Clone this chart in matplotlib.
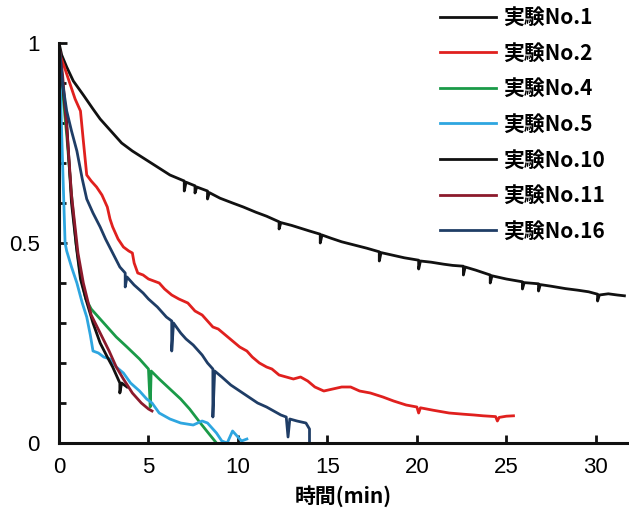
import numpy as np
import matplotlib
matplotlib.use('Agg')
import matplotlib.pyplot as plt
from matplotlib.ticker import MultipleLocator

plt.rcParams['font.family'] = ['Noto Sans CJK JP', 'DejaVu Sans']

# [time (min), normalized value]
exp1 = np.array([
    [0, 1.0], [0.15, 0.97], [0.43, 0.94], [0.8, 0.905], [1.36, 0.87], [1.9, 0.835], [2.3, 0.81],
    [2.7, 0.79], [3.0, 0.775], [3.5, 0.75], [4.1, 0.73], [4.8, 0.71], [5.5, 0.69], [6.2, 0.67],
    [7.0, 0.655], [7.0, 0.63], [7.1, 0.652], [7.6, 0.643], [7.6, 0.625], [7.7, 0.64], [8.3, 0.63],
    [8.3, 0.61], [8.4, 0.626], [9.0, 0.612], [9.7, 0.6], [10.3, 0.59], [11.0, 0.577], [11.6, 0.567],
    [12.3, 0.553], [12.3, 0.535], [12.4, 0.551], [13.0, 0.544], [13.5, 0.537], [14.0, 0.53],
    [14.6, 0.522], [14.6, 0.5], [14.7, 0.52], [15.2, 0.512], [15.8, 0.503], [16.5, 0.495],
    [17.2, 0.487], [17.9, 0.478], [17.9, 0.455], [18.0, 0.476], [18.6, 0.47], [19.3, 0.463],
    [20.1, 0.457], [20.1, 0.435], [20.2, 0.455], [20.8, 0.452], [21.5, 0.447], [22.0, 0.444],
    [22.6, 0.442], [22.6, 0.42], [22.7, 0.44], [23.3, 0.432], [24.1, 0.42], [24.1, 0.4],
    [24.2, 0.418], [25.0, 0.41], [25.9, 0.403], [25.9, 0.385], [26.0, 0.401], [26.8, 0.398],
    [26.8, 0.38], [26.9, 0.396], [27.5, 0.392], [28.3, 0.386], [29.0, 0.382], [29.6, 0.378],
    [30.1, 0.372], [30.1, 0.355], [30.2, 0.37], [30.7, 0.373], [31.2, 0.37], [31.6, 0.368],
])
exp2 = np.array([
    [0, 1.0], [0.05, 0.97], [0.3, 0.94], [0.6, 0.9], [0.9, 0.86], [1.2, 0.83], [1.35, 0.76],
    [1.55, 0.67], [1.8, 0.655], [2.1, 0.64], [2.4, 0.62], [2.7, 0.59], [2.85, 0.56], [3.0, 0.54],
    [3.3, 0.51], [3.6, 0.49], [3.9, 0.48], [4.1, 0.475], [4.2, 0.45], [4.4, 0.425], [4.7, 0.42],
    [5.0, 0.41], [5.3, 0.405], [5.6, 0.4], [5.9, 0.385], [6.3, 0.37], [6.7, 0.36], [7.2, 0.35],
    [7.6, 0.33], [8.0, 0.32], [8.3, 0.305], [8.6, 0.29], [8.9, 0.285], [9.3, 0.27], [9.7, 0.255],
    [10.1, 0.24], [10.5, 0.23], [10.8, 0.215], [11.2, 0.2], [11.6, 0.19], [11.9, 0.185],
    [12.3, 0.17], [12.7, 0.165], [13.1, 0.16], [13.5, 0.165], [13.9, 0.155], [14.3, 0.14],
    [14.8, 0.13], [15.3, 0.135], [15.8, 0.14], [16.3, 0.14], [16.8, 0.13], [17.4, 0.125],
    [18.1, 0.115], [18.7, 0.105], [19.4, 0.095], [20.0, 0.09], [20.1, 0.075], [20.2, 0.088],
    [20.9, 0.082], [21.8, 0.075], [22.6, 0.072], [23.2, 0.07], [23.7, 0.068], [24.4, 0.066],
    [24.5, 0.055], [24.6, 0.064], [25.0, 0.067], [25.4, 0.068],
])
exp4 = np.array([
    [0, 1.0], [0.2, 0.88], [0.45, 0.76], [0.7, 0.62], [0.95, 0.5], [1.2, 0.42], [1.5, 0.36],
    [1.8, 0.335], [2.1, 0.32], [2.6, 0.295], [3.2, 0.265], [3.8, 0.24], [4.5, 0.21], [5.0, 0.185],
    [5.1, 0.09], [5.15, 0.18], [5.6, 0.16], [6.2, 0.135], [6.8, 0.11], [7.3, 0.085], [7.9, 0.05],
    [8.4, 0.022], [8.8, 0.0],
])
exp5 = np.array([
    [0, 1.0], [0.1, 0.85], [0.2, 0.7], [0.34, 0.5], [0.43, 0.48], [0.7, 0.44], [1.0, 0.4],
    [1.3, 0.35], [1.55, 0.315], [1.75, 0.27], [1.9, 0.23], [2.2, 0.225], [2.5, 0.215],
    [2.85, 0.21], [3.2, 0.19], [3.6, 0.175], [4.0, 0.15], [4.5, 0.13], [4.9, 0.11], [5.2, 0.1],
    [5.6, 0.075], [6.2, 0.06], [6.8, 0.05], [7.5, 0.045], [8.0, 0.055], [8.3, 0.05], [8.8, 0.025],
    [9.1, 0.005], [9.4, 0.0], [9.7, 0.03], [9.9, 0.02], [10.2, 0.005], [10.5, 0.01],
])
exp10 = np.array([
    [0, 1.0], [0.2, 0.9], [0.43, 0.8], [0.7, 0.6], [1.0, 0.48], [1.2, 0.41], [1.5, 0.36],
    [1.9, 0.3], [2.3, 0.25], [2.7, 0.215], [3.0, 0.19], [3.4, 0.15], [3.4, 0.125], [3.5, 0.15],
    [3.8, 0.14],
])
exp11 = np.array([
    [0, 1.0], [0.2, 0.92], [0.43, 0.79], [0.7, 0.62], [1.06, 0.475], [1.36, 0.4], [1.8, 0.32],
    [2.3, 0.275], [2.8, 0.23], [3.2, 0.19], [3.6, 0.16], [4.1, 0.125], [4.6, 0.1], [5.0, 0.085],
    [5.2, 0.08],
])
exp16 = np.array([
    [0, 1.0], [0.2, 0.9], [0.43, 0.83], [0.7, 0.78], [1.0, 0.73], [1.3, 0.66], [1.55, 0.61],
    [1.9, 0.575], [2.3, 0.54], [2.6, 0.51], [3.0, 0.475], [3.4, 0.44], [3.7, 0.425], [3.7, 0.39],
    [3.8, 0.415], [4.2, 0.395], [4.7, 0.375], [5.0, 0.36], [5.5, 0.34], [6.0, 0.315], [6.3, 0.305],
    [6.3, 0.23], [6.4, 0.3], [6.8, 0.275], [7.1, 0.26], [7.5, 0.245], [8.0, 0.22], [8.3, 0.2],
    [8.6, 0.185], [8.6, 0.065], [8.7, 0.18], [9.1, 0.165], [9.6, 0.145], [10.1, 0.13],
    [10.6, 0.115], [11.1, 0.1], [11.6, 0.09], [12.0, 0.08], [12.4, 0.07], [12.7, 0.065],
    [12.8, 0.015], [12.9, 0.06], [13.3, 0.055], [13.8, 0.05], [14.0, 0.035], [14.0, 0.0],
])

labels = ['実験No.1', '実験No.2', '実験No.4', '実験No.5', '実験No.10', '実験No.11', '実験No.16']
series = [exp1, exp2, exp4, exp5, exp10, exp11, exp16]
colors = ['#111111', '#e0201e', '#1a9a48', '#2ea6e0', '#111111', '#8c1a2c', '#1f3d66']

fig = plt.figure(figsize=(6.29, 5.20), dpi=100)
ax = fig.add_axes([59 / 629, 77 / 520, 569 / 629, 400 / 520])

for data, lab, c in zip(series, labels, colors):
    ax.plot(data[:, 0], data[:, 1], color=c, lw=2.0, label=lab)

ax.set_xlim(0, 31.8)
ax.set_ylim(0, 1)
ax.spines['top'].set_visible(False)
ax.spines['right'].set_visible(False)
for s in ['left', 'bottom']:
    ax.spines[s].set_linewidth(2.2)
    ax.spines[s].set_color('#111111')

ax.xaxis.set_major_locator(MultipleLocator(5))
ax.yaxis.set_minor_locator(MultipleLocator(0.1))
ax.set_yticks([0, 0.5, 1])
ax.set_yticklabels(['0', '0.5', '1'])
ax.tick_params(axis='both', which='both', direction='in', width=2, color='#111111')
ax.tick_params(axis='both', which='major', length=6, labelsize=16)
ax.tick_params(axis='y', which='minor', length=5)
ax.tick_params(axis='x', pad=10)
ax.tick_params(axis='y', pad=14)
for t in ax.get_xticklabels() + ax.get_yticklabels():
    t.set_fontfamily(['Liberation Sans', 'DejaVu Sans'])

ax.set_xlabel('時間(min)', fontsize=15, fontweight='bold', labelpad=5)

fig.legend(loc='upper left', bbox_to_anchor=(440 / 629, 1 - 7 / 520), frameon=False,
           prop={'weight': 'bold', 'size': 15}, handlelength=2.7,
           handletextpad=0.35, labelspacing=0.7, borderpad=0, borderaxespad=0)

fig.savefig('out.png', dpi=100)
